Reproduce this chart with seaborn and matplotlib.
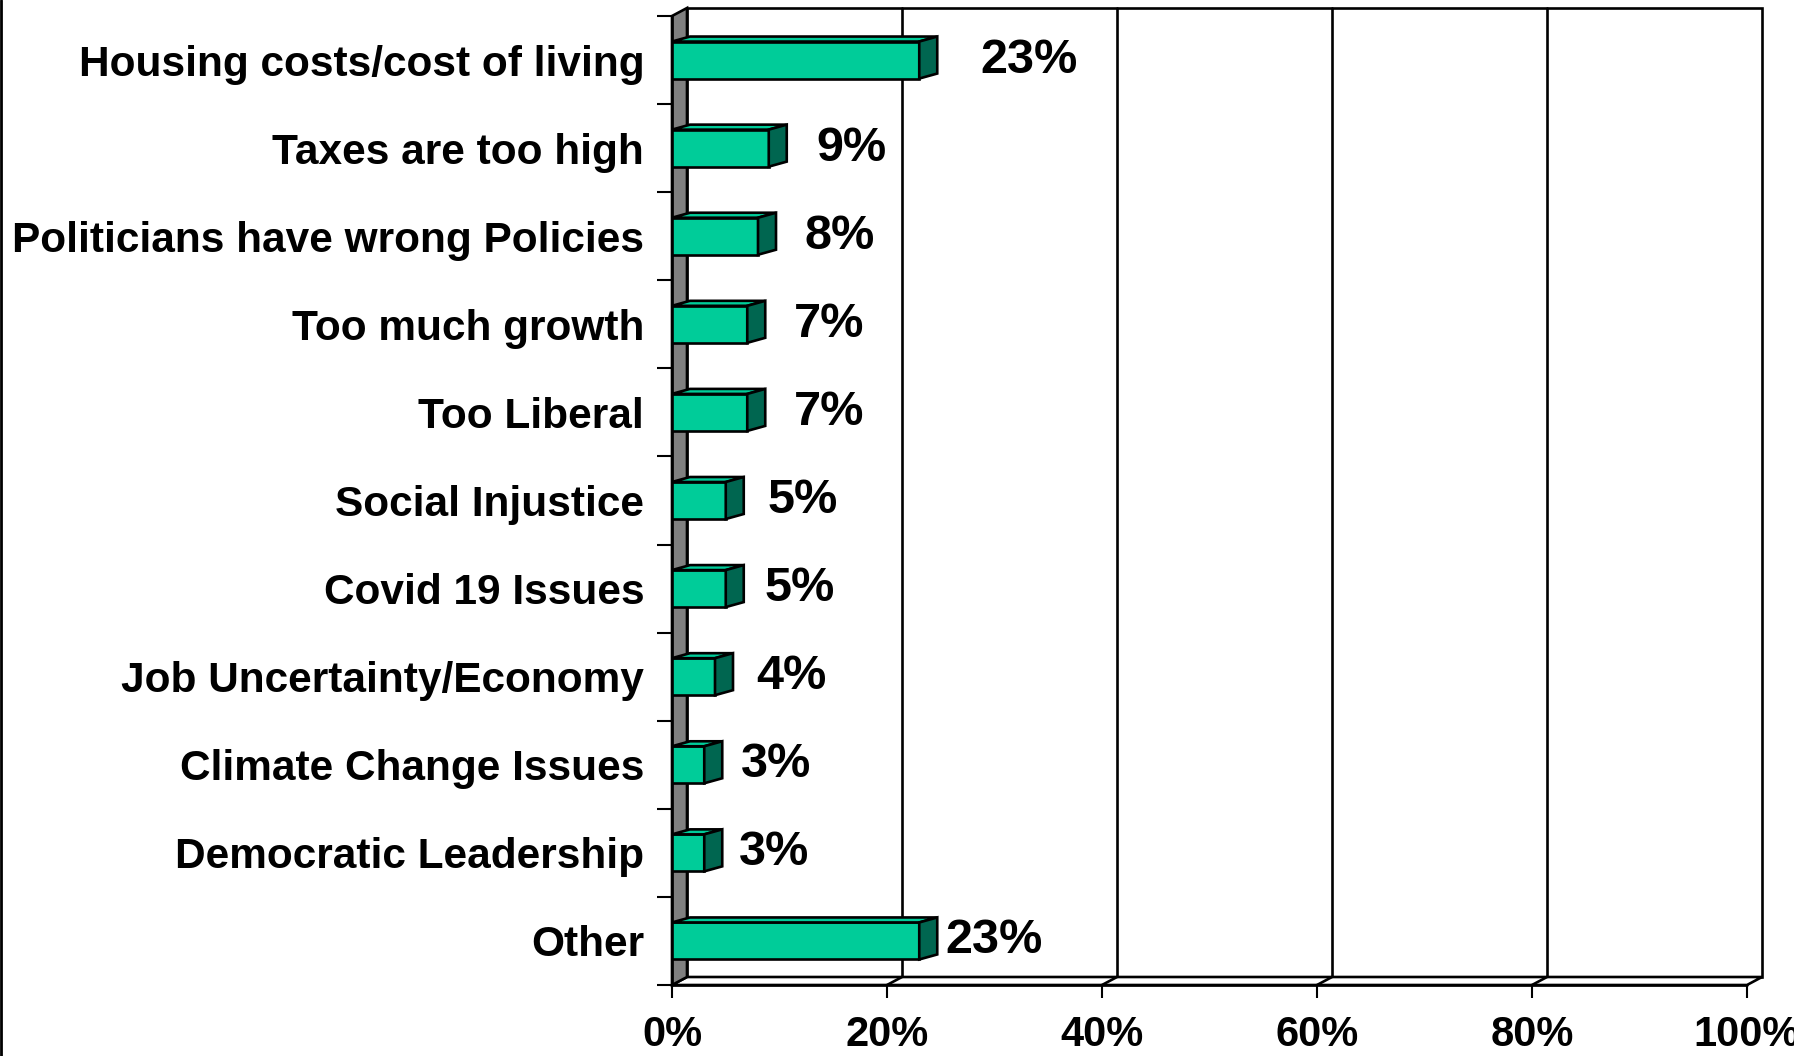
import pandas as pd
import seaborn as sns
import matplotlib.pyplot as plt
from matplotlib.patches import Polygon
from matplotlib.lines import Line2D

# dados do grafico
categories = [
    "Housing costs/cost of living",
    "Taxes are too high",
    "Politicians have wrong Policies",
    "Too much growth",
    "Too Liberal",
    "Social Injustice",
    "Covid 19 Issues",
    "Job Uncertainty/Economy",
    "Climate Change Issues",
    "Democratic Leadership",
    "Other",
]
values = [23, 9, 8, 7, 7, 5, 5, 4, 3, 3, 23]
value_labels = ["23%", "9%", "8%", "7%", "7%", "5%", "5%", "4%", "3%", "3%", "23%"]
x_ticks = [0, 20, 40, 60, 80, 100]
x_tick_labels = ["0%", "20%", "40%", "60%", "80%", "100%"]

# deslocamento dos rotulos (layout, em % do eixo)
label_nudge = [5.7, 4.4, 4.3, 4.3, 4.3, 3.9, 3.6, 3.8, 3.4, 3.2, 2.4]

front = "#00CC99"
top = "#00CC99"
side = "#006650"
wall = "#808080"

sns.set_style("white")
plt.rcParams["font.family"] = ["Liberation Sans", "DejaVu Sans"]
plt.rcParams["text.color"] = "black"
plt.rcParams["xtick.color"] = "black"
plt.rcParams["ytick.color"] = "black"

W, H = 1794, 1056
fig = plt.figure(figsize=(W / 100, H / 100), dpi=100)
x0, x1, y0, y1 = 672, 1747, 16, 985
ax = fig.add_axes([x0 / W, 1 - y1 / H, (x1 - x0) / W, (y1 - y0) / H])

df = pd.DataFrame({"cat": categories, "val": values})
sns.barplot(data=df, x="val", y="cat", orient="h", width=0.42, color=front,
            saturation=1, edgecolor="black", linewidth=1.9, ax=ax, zorder=5)
n = len(categories)
ax.set_xlim(0, 100)
ax.set_ylim(n - 0.5, -0.5)

# profundidade em unidades de dados
px_x = 100 / (x1 - x0)
px_y = n / (y1 - y0)
wdx, wdy = 15 * px_x, 8 * px_y   # paredes
bdx, bdy = 18 * px_x, 5 * px_y   # barras

ytop, ybot = -0.5, n - 0.5
kw = dict(edgecolor="black", linewidth=1.9, clip_on=False, joinstyle="miter")
# parede do fundo
ax.add_patch(Polygon([(wdx, ytop - wdy), (100 + wdx, ytop - wdy),
                      (100 + wdx, ybot - wdy), (wdx, ybot - wdy)],
                     facecolor="white", zorder=0, **kw))
for t in x_ticks[1:-1]:
    ax.add_line(Line2D([t + wdx, t + wdx], [ytop - wdy, ybot - wdy],
                       color="black", lw=1.9, zorder=1, clip_on=False))
# chao
ax.add_patch(Polygon([(0, ybot), (100, ybot), (100 + wdx, ybot - wdy), (wdx, ybot - wdy)],
                     facecolor="white", zorder=1, **kw))
for t in x_ticks[1:-1]:
    ax.add_line(Line2D([t, t + wdx], [ybot, ybot - wdy],
                       color="black", lw=1.9, zorder=2, clip_on=False))
# parede esquerda
ax.add_patch(Polygon([(0, ytop), (wdx, ytop - wdy), (wdx, ybot - wdy), (0, ybot)],
                     facecolor=wall, zorder=2, **kw))

# faces 3D das barras
for p in ax.patches[:]:
    if not hasattr(p, "get_width") or p.get_facecolor()[:3] == (1, 1, 1):
        continue
    bx, by, bw, bh = p.get_x(), p.get_y(), p.get_width(), p.get_height()
    if bh > 1 or bw <= 0:
        continue
    ax.add_patch(Polygon([(bx, by), (bx + bw, by), (bx + bw + bdx, by - bdy), (bx + bdx, by - bdy)],
                         facecolor=top, zorder=6, **kw))
    ax.add_patch(Polygon([(bx + bw, by), (bx + bw, by + bh), (bx + bw + bdx, by + bh - bdy),
                          (bx + bw + bdx, by - bdy)], facecolor=side, zorder=6, **kw))

# rotulos de valor
for i, (v, lab) in enumerate(zip(values, value_labels)):
    ax.text(v + label_nudge[i], i, lab, ha="left", va="center",
            fontsize=35, fontweight="bold", color="black", zorder=7)

# eixos
for s in ax.spines.values():
    s.set_visible(False)
ax.set_xlabel("")
ax.set_ylabel("")
ax.set_xticks(x_ticks)
ax.set_xticklabels(x_tick_labels, fontsize=30, fontweight="bold", color="black")
ax.set_yticks(range(n))
ax.set_yticklabels(categories, fontsize=30.5, fontweight="bold", color="black")
ax.set_yticks([i - 0.5 for i in range(n + 1)], minor=True)
ax.tick_params(axis="y", which="major", length=0, pad=20)
ax.tick_params(axis="y", which="minor", length=11, width=1.5, color="black", left=True)
ax.tick_params(axis="x", which="major", length=9.5, width=1.5, color="black",
               bottom=True, pad=12)
ax.add_line(Line2D([0, 0], [ytop, ybot], color="black", lw=1.9, zorder=3, clip_on=False))
ax.add_line(Line2D([0, 100], [ybot, ybot], color="black", lw=1.9, zorder=3, clip_on=False))

# borda esquerda da imagem
fig.add_artist(Line2D([1 / W, 1 / W], [0, 1], color="black", lw=2, transform=fig.transFigure))

fig.savefig("out.png", dpi=100, facecolor="white")
